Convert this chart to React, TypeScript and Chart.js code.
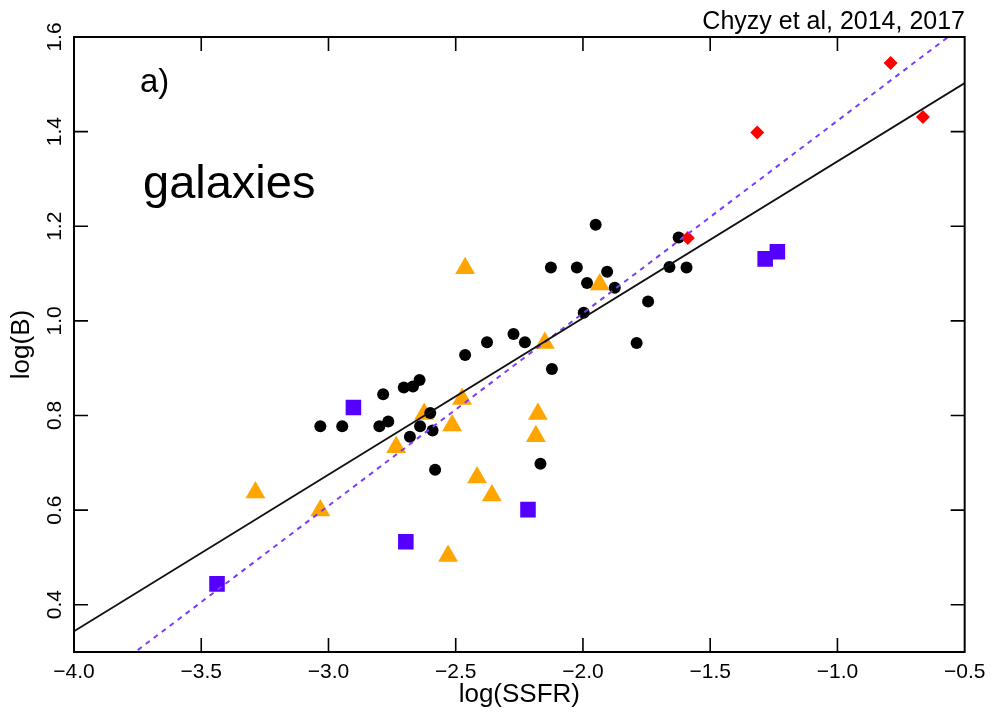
import React, { useEffect, useRef } from 'react';
import { Chart, registerables } from 'chart.js';

Chart.register(...registerables);

const FONT = '"Liberation Sans", Arial, Helvetica, sans-serif';

const xTicks = [-4.0, -3.5, -3.0, -2.5, -2.0, -1.5, -1.0, -0.5];
const yTicks = [0.4, 0.6, 0.8, 1.0, 1.2, 1.4, 1.6];
const xRange = [-4.0, -0.5];
const yRange = [0.3, 1.6];

const xTitle = 'log(SSFR)';
const yTitle = 'log(B)';
const panelLabel = 'a)';
const groupLabel = 'galaxies';
const sourceLabel = 'Chyzy et al, 2014, 2017';

// black circles
const circles: [number, number][] = [
  [-3.032, 0.777], [-2.946, 0.777], [-2.785, 0.845], [-2.800, 0.777], [-2.765, 0.787],
  [-2.704, 0.859], [-2.668, 0.861], [-2.642, 0.875], [-2.640, 0.777], [-2.680, 0.755],
  [-2.600, 0.805], [-2.591, 0.768], [-2.581, 0.685], [-2.463, 0.928], [-2.377, 0.955],
  [-2.273, 0.972], [-2.228, 0.955], [-2.122, 0.898], [-2.167, 0.698], [-2.126, 1.113],
  [-1.950, 1.203], [-2.024, 1.113], [-1.984, 1.080], [-1.905, 1.104], [-1.875, 1.070],
  [-1.997, 1.017], [-1.744, 1.041], [-1.789, 0.953], [-1.660, 1.114], [-1.624, 1.176],
  [-1.593, 1.113],
];

// orange triangles
const triangles: [number, number][] = [
  [-3.287, 0.637], [-3.032, 0.599], [-2.734, 0.733], [-2.624, 0.803], [-2.514, 0.779],
  [-2.475, 0.835], [-2.463, 1.111], [-2.530, 0.503], [-2.416, 0.669], [-2.358, 0.631],
  [-2.185, 0.756], [-2.177, 0.803], [-2.150, 0.953], [-1.934, 1.077],
];

// violet squares
const squares: [number, number][] = [
  [-3.438, 0.444], [-2.902, 0.817], [-2.696, 0.533], [-2.216, 0.601],
  [-1.284, 1.131], [-1.236, 1.146],
];

// red diamonds
const diamonds: [number, number][] = [
  [-1.588, 1.175], [-1.315, 1.398], [-0.791, 1.545], [-0.664, 1.431],
];

// fits: y = slope * x + intercept
const fitSolid = { slope: 0.331, intercept: 1.668 };
const fitDashed = { slope: 0.407, intercept: 1.830 };

const toPts = (arr: [number, number][]) => arr.map(([x, y]) => ({ x, y }));
const fitLine = (f: { slope: number; intercept: number }) =>
  xRange.map((x) => ({ x, y: f.slope * x + f.intercept }));
const fmt = (v: number) => Number(v).toFixed(1).replace('-', '\u2212');

const framePlugin = {
  id: 'framePlugin',
  afterDraw(chart: any) {
    const { ctx, chartArea } = chart;
    const { left, right, top, bottom } = chartArea;
    const xs = chart.scales.x;
    const ys = chart.scales.y;
    const tl = 14;
    ctx.save();
    ctx.strokeStyle = '#000';
    ctx.lineWidth = 1.6;
    ctx.beginPath();
    for (const v of xTicks) {
      const px = xs.getPixelForValue(v);
      if (px > left + 1 && px < right - 1) {
        ctx.moveTo(px, bottom);
        ctx.lineTo(px, bottom - tl);
        ctx.moveTo(px, top);
        ctx.lineTo(px, top + tl);
      }
    }
    for (const v of yTicks) {
      const py = ys.getPixelForValue(v);
      if (py > top + 1 && py < bottom - 1) {
        ctx.moveTo(left, py);
        ctx.lineTo(left + tl, py);
        ctx.moveTo(right, py);
        ctx.lineTo(right - tl, py);
      }
    }
    ctx.stroke();
    ctx.lineWidth = 2;
    ctx.strokeRect(left, top, right - left, bottom - top);

    ctx.fillStyle = '#000';
    ctx.textBaseline = 'alphabetic';
    ctx.textAlign = 'right';
    ctx.font = `25px ${FONT}`;
    ctx.fillText(sourceLabel, 965, 29);
    ctx.textAlign = 'left';
    ctx.font = `33px ${FONT}`;
    ctx.fillText(panelLabel, 140, 92);
    ctx.font = `47px ${FONT}`;
    ctx.fillText(groupLabel, 143, 198);
    ctx.restore();
  },
};

export default function App() {
  const ref = useRef<HTMLCanvasElement | null>(null);

  useEffect(() => {
    if (!ref.current) return;
    const chart = new Chart(ref.current, {
      type: 'scatter',
      data: {
        datasets: [
          {
            label: 'fit',
            data: fitLine(fitSolid),
            showLine: true,
            borderColor: '#111',
            borderWidth: 1.8,
            pointRadius: 0,
            clip: 0,
          } as any,
          {
            label: 'fit2',
            data: fitLine(fitDashed),
            showLine: true,
            borderColor: '#7a3cff',
            borderWidth: 2,
            borderDash: [5, 5],
            pointRadius: 0,
            clip: 0,
          } as any,
          {
            label: 'diamonds',
            data: toPts(diamonds),
            pointStyle: 'rectRot',
            pointRadius: 7,
            pointBorderWidth: 0,
            backgroundColor: '#ff0000',
            borderColor: '#ff0000',
          },
          {
            label: 'circles',
            data: toPts(circles),
            pointStyle: 'circle',
            pointRadius: 6,
            pointBorderWidth: 0,
            backgroundColor: '#000',
            borderColor: '#000',
          },
          {
            label: 'squares',
            data: toPts(squares),
            pointStyle: 'rect',
            pointRadius: 11,
            pointBorderWidth: 0,
            backgroundColor: '#5500ff',
            borderColor: '#5500ff',
          },
          {
            label: 'triangles',
            data: toPts(triangles),
            pointStyle: 'triangle',
            pointRadius: 11.5,
            pointBorderWidth: 0,
            backgroundColor: '#ffa500',
            borderColor: '#ffa500',
          },
        ],
      },
      options: {
        animation: false,
        responsive: true,
        maintainAspectRatio: false,
        layout: { padding: { top: 37, right: 26, left: 0, bottom: 0 } },
        plugins: {
          legend: { display: false },
          tooltip: { enabled: false },
          title: { display: false },
        },
        events: [],
        scales: {
          x: {
            type: 'linear',
            min: xRange[0],
            max: xRange[1],
            afterBuildTicks: (s: any) => {
              s.ticks = xTicks.map((v) => ({ value: v }));
            },
            afterFit: (s: any) => {
              s.height = 62;
            },
            grid: { display: false, drawTicks: false },
            border: { display: false },
            ticks: {
              autoSkip: false,
              maxRotation: 0,
              minRotation: 0,
              padding: 7.6,
              color: '#000',
              font: { family: FONT, size: 21 },
              callback: (v: any) => fmt(v),
            },
            title: {
              display: true,
              text: xTitle,
              color: '#000',
              font: { family: FONT, size: 26 },
              padding: { top: 0, bottom: 3.4 },
            },
          },
          y: {
            type: 'linear',
            min: yRange[0],
            max: yRange[1],
            afterBuildTicks: (s: any) => {
              s.ticks = yTicks.map((v) => ({ value: v }));
            },
            afterFit: (s: any) => {
              s.width = 74;
            },
            grid: { display: false, drawTicks: false },
            border: { display: false },
            ticks: {
              autoSkip: false,
              minRotation: 90,
              maxRotation: 90,
              crossAlign: 'center',
              padding: 4.4,
              color: '#000',
              font: { family: FONT, size: 21 },
              callback: (v: any) => fmt(v),
            },
            title: {
              display: true,
              text: yTitle,
              color: '#000',
              font: { family: FONT, size: 26 },
              padding: { top: 6.4, bottom: 0 },
            },
          },
        },
      },
      plugins: [framePlugin],
    } as any);
    return () => chart.destroy();
  }, []);

  return (
    <div style={{ position: 'fixed', left: 0, top: 0, width: 993, height: 714, background: '#fff' }}>
      <canvas ref={ref} />
    </div>
  );
}
